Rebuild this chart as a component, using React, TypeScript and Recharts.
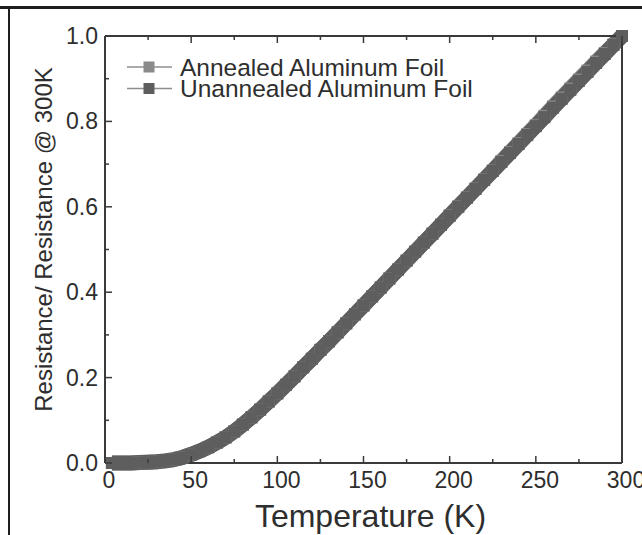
import React from 'react';
import { LineChart, Line, XAxis, YAxis, Legend } from 'recharts';

const temperatures = [
  4, 10, 15, 20, 25, 30, 35, 40, 45, 50,
  55, 60, 65, 70, 75, 80, 85, 90, 95, 100,
  105, 110, 115, 120, 125, 130, 135, 140, 145, 150,
  155, 160, 165, 170, 175, 180, 185, 190, 195, 200,
  205, 210, 215, 220, 225, 230, 235, 240, 245, 250,
  255, 260, 265, 270, 275, 280, 285, 290, 295, 300,
];

const annealed = [
  0.000, 0.000, 0.000, 0.001, 0.002, 0.003, 0.005, 0.008, 0.013, 0.020,
  0.028, 0.037, 0.048, 0.060, 0.074, 0.090, 0.107, 0.125, 0.144, 0.163,
  0.183, 0.203, 0.224, 0.244, 0.265, 0.285, 0.306, 0.327, 0.348, 0.369,
  0.390, 0.411, 0.432, 0.453, 0.474, 0.495, 0.516, 0.537, 0.558, 0.580,
  0.601, 0.622, 0.643, 0.664, 0.685, 0.707, 0.728, 0.749, 0.770, 0.791,
  0.813, 0.835, 0.856, 0.877, 0.898, 0.919, 0.940, 0.960, 0.980, 1.000,
];

const unannealed = [
  0.000, 0.000, 0.000, 0.001, 0.002, 0.003, 0.005, 0.008, 0.013, 0.020,
  0.028, 0.037, 0.048, 0.060, 0.074, 0.090, 0.107, 0.125, 0.144, 0.163,
  0.183, 0.203, 0.224, 0.244, 0.265, 0.285, 0.306, 0.327, 0.348, 0.369,
  0.390, 0.411, 0.432, 0.453, 0.474, 0.495, 0.516, 0.537, 0.558, 0.579,
  0.600, 0.621, 0.642, 0.663, 0.684, 0.705, 0.726, 0.747, 0.768, 0.789,
  0.810, 0.832, 0.853, 0.874, 0.895, 0.916, 0.937, 0.958, 0.979, 1.000,
];

const xTicks = [0, 25, 50, 75, 100, 125, 150, 175, 200, 225, 250, 275, 300];
const yTicks = [0, 0.1, 0.2, 0.3, 0.4, 0.5, 0.6, 0.7, 0.8, 0.9, 1.0];

const seriesNames = ['Annealed Aluminum Foil', 'Unannealed Aluminum Foil'];
const seriesColors = ['#8a8a8a', '#5e5e5e'];

const data = temperatures.map((t, i) => ({ T: t, annealed: annealed[i], unannealed: unannealed[i] }));

const FONT = '"Liberation Sans", Arial, Helvetica, sans-serif';
const TEXT = '#2e2e2e';
const AXIS = '#3a3a3a';

const isMajorX = (v: number) => v % 50 === 0;
const isMajorY = (v: number) => Math.round(v * 10) % 2 === 0;

const BottomTick = (props: any) => {
  const { x, y, payload } = props;
  const major = isMajorX(payload.value);
  return (
    <g>
      <line x1={x} x2={x} y1={y} y2={y - (major ? 7 : 4)} stroke={AXIS} strokeWidth={1.5} />
      {major && (
        <text x={x + 4} y={y + 25} textAnchor="middle" fontSize={23} fontFamily={FONT} fill={TEXT}>
          {payload.value}
        </text>
      )}
    </g>
  );
};

const TopTick = (props: any) => {
  const { x, y, payload } = props;
  const major = isMajorX(payload.value);
  return <line x1={x} x2={x} y1={y} y2={y + (major ? 7 : 4)} stroke={AXIS} strokeWidth={1.5} />;
};

const LeftTick = (props: any) => {
  const { x, y, payload } = props;
  const major = isMajorY(payload.value);
  return (
    <g>
      <line x1={x} x2={x + (major ? 7 : 4)} y1={y} y2={y} stroke={AXIS} strokeWidth={1.5} />
      {major && (
        <text x={x - 7} y={y + 8} textAnchor="end" fontSize={23} fontFamily={FONT} fill={TEXT}>
          {payload.value.toFixed(1)}
        </text>
      )}
    </g>
  );
};

const RightTick = (props: any) => {
  const { x, y, payload } = props;
  const major = isMajorY(payload.value);
  return <line x1={x} x2={x - (major ? 7 : 4)} y1={y} y2={y} stroke={AXIS} strokeWidth={1.5} />;
};

const makeSquare = (color: string) => (p: any) => (
  <rect key={`sq-${p.index}`} x={p.cx - 6} y={p.cy - 6} width={12} height={12} fill={color} />
);

const renderLegend = () => (
  <svg width={360} height={56} style={{ display: 'block', overflow: 'visible' }}>
    {seriesNames.map((name, i) => (
      <g key={name} transform={`translate(0, ${i * 21.5})`}>
        <line x1={2} x2={47} y1={14} y2={14} stroke="#8e8e8e" strokeWidth={1.5} />
        <rect x={18.5} y={8.5} width={11} height={11} fill={seriesColors[i]} />
        <text x={55} y={22.5} fontSize={24.5} fontFamily={FONT} fill={TEXT}>
          {name}
        </text>
      </g>
    ))}
  </svg>
);

const XTitle = (props: any) => {
  const vb = props.viewBox || { x: 105, y: 463, width: 517, height: 40 };
  return (
    <text x={vb.x + vb.width / 2 + 7} y={527} textAnchor="middle" fontSize={32} fontFamily={FONT} fill={TEXT}>
      Temperature (K)
    </text>
  );
};

const YTitle = (props: any) => {
  const vb = props.viewBox || { x: 45, y: 36, width: 60, height: 427 };
  const cx = 52;
  const cy = vb.y + vb.height / 2 - 10;
  return (
    <text
      x={cx}
      y={cy}
      transform={`rotate(-90, ${cx}, ${cy})`}
      textAnchor="middle"
      fontSize={24}
      fontFamily={FONT}
      fill={TEXT}
    >
      Resistance/ Resistance @ 300K
    </text>
  );
};

export default function App() {
  return (
    <div style={{ position: 'absolute', left: 0, top: 0, width: 642, height: 535, background: '#fff', overflow: 'hidden' }}>
      <LineChart
        width={642}
        height={535}
        data={data}
        margin={{ top: 35, right: 19, bottom: 32, left: 45 }}
      >
        <XAxis
          xAxisId="bottom"
          dataKey="T"
          type="number"
          domain={[0, 300]}
          ticks={xTicks}
          interval={0}
          height={40}
          tickSize={0}
          tickMargin={0}
          tickLine={false}
          tick={<BottomTick />}
          axisLine={{ stroke: AXIS, strokeWidth: 2 }}
          label={<XTitle />}
        />
        <XAxis
          xAxisId="top"
          dataKey="T"
          orientation="top"
          type="number"
          domain={[0, 300]}
          ticks={xTicks}
          interval={0}
          height={1}
          tickSize={0}
          tickMargin={0}
          tickLine={false}
          tick={<TopTick />}
          axisLine={{ stroke: AXIS, strokeWidth: 2 }}
        />
        <YAxis
          yAxisId="left"
          type="number"
          domain={[0, 1]}
          ticks={yTicks}
          interval={0}
          width={60}
          tickSize={0}
          tickMargin={0}
          tickLine={false}
          tick={<LeftTick />}
          axisLine={{ stroke: AXIS, strokeWidth: 2 }}
          label={<YTitle />}
        />
        <YAxis
          yAxisId="right"
          orientation="right"
          type="number"
          domain={[0, 1]}
          ticks={yTicks}
          interval={0}
          width={1}
          tickSize={0}
          tickMargin={0}
          tickLine={false}
          tick={<RightTick />}
          axisLine={{ stroke: AXIS, strokeWidth: 2 }}
        />
        <Legend
          layout="horizontal"
          verticalAlign="middle"
          align="center"
          content={renderLegend}
          wrapperStyle={{ top: 53, left: 125, width: 360, height: 56 }}
        />
        <Line
          xAxisId="bottom"
          yAxisId="left"
          type="linear"
          dataKey="annealed"
          name={seriesNames[0]}
          stroke={seriesColors[0]}
          strokeWidth={15}
          strokeLinejoin="round"
          dot={makeSquare(seriesColors[0])}
          activeDot={false}
          isAnimationActive={false}
        />
        <Line
          xAxisId="bottom"
          yAxisId="left"
          type="linear"
          dataKey="unannealed"
          name={seriesNames[1]}
          stroke={seriesColors[1]}
          strokeWidth={15}
          strokeLinejoin="round"
          dot={makeSquare(seriesColors[1])}
          activeDot={false}
          isAnimationActive={false}
        />
      </LineChart>
      <div style={{ position: 'absolute', left: 0, top: 6, width: 642, height: 2.5, background: '#1e1e1e' }} />
      <div style={{ position: 'absolute', left: 8, top: 6, width: 2, height: 529, background: '#1e1e1e' }} />
    </div>
  );
}
